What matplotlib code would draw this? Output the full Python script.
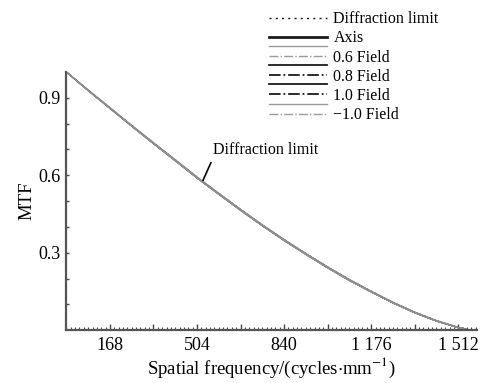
import numpy as np
import matplotlib.pyplot as plt
from matplotlib.lines import Line2D
from matplotlib.legend_handler import HandlerBase
from matplotlib.ticker import MultipleLocator

plt.rcParams['font.family'] = ['Liberation Serif', 'DejaVu Serif']
plt.rcParams['mathtext.fontset'] = 'stix'

# spatial frequency (cycles/mm) and MTF values
freq = [0, 84, 168, 252, 336, 420, 504, 588, 672, 756, 840, 924,
        1008, 1092, 1176, 1260, 1344, 1428, 1512, 1560]
diffraction = [1.0, 0.930, 0.862, 0.793, 0.726, 0.660, 0.593, 0.530, 0.468, 0.408,
               0.351, 0.297, 0.245, 0.196, 0.151, 0.108, 0.070, 0.037, 0.011, 0.0]
axis_mtf = [1.0, 0.929, 0.861, 0.792, 0.725, 0.659, 0.592, 0.529, 0.467, 0.407,
            0.350, 0.296, 0.244, 0.195, 0.150, 0.107, 0.069, 0.036, 0.010, 0.0]
f06_t = [1.0, 0.929, 0.860, 0.791, 0.724, 0.658, 0.591, 0.528, 0.466, 0.406,
         0.349, 0.295, 0.243, 0.194, 0.149, 0.106, 0.068, 0.036, 0.010, 0.0]
f06_s = [1.0, 0.929, 0.861, 0.792, 0.725, 0.659, 0.592, 0.529, 0.467, 0.407,
         0.350, 0.296, 0.244, 0.195, 0.150, 0.107, 0.069, 0.036, 0.010, 0.0]
f08_t = [1.0, 0.928, 0.860, 0.791, 0.723, 0.657, 0.590, 0.527, 0.465, 0.405,
         0.348, 0.294, 0.242, 0.193, 0.148, 0.106, 0.068, 0.035, 0.010, 0.0]
f08_s = [1.0, 0.929, 0.860, 0.791, 0.724, 0.658, 0.591, 0.528, 0.466, 0.406,
         0.349, 0.295, 0.243, 0.194, 0.149, 0.106, 0.068, 0.036, 0.010, 0.0]
f10_t = [1.0, 0.928, 0.859, 0.790, 0.722, 0.656, 0.589, 0.526, 0.464, 0.404,
         0.347, 0.293, 0.241, 0.192, 0.148, 0.105, 0.067, 0.035, 0.010, 0.0]
f10_s = [1.0, 0.929, 0.860, 0.791, 0.723, 0.657, 0.590, 0.527, 0.465, 0.405,
         0.348, 0.294, 0.242, 0.193, 0.148, 0.105, 0.068, 0.035, 0.010, 0.0]
fm10_t = [1.0, 0.928, 0.859, 0.790, 0.722, 0.656, 0.589, 0.526, 0.464, 0.404,
          0.347, 0.293, 0.241, 0.192, 0.148, 0.105, 0.067, 0.035, 0.010, 0.0]
fm10_s = [1.0, 0.929, 0.860, 0.791, 0.723, 0.657, 0.590, 0.527, 0.465, 0.405,
          0.348, 0.294, 0.242, 0.193, 0.148, 0.105, 0.068, 0.035, 0.010, 0.0]

xticks = [168, 336, 504, 672, 840, 1008, 1176, 1344, 1512]
xticklabels = ['168', '', '504', '', '840', '', '1 176', '', '1 512']
yticks = [0.1, 0.2, 0.3, 0.4, 0.5, 0.6, 0.7, 0.8, 0.9]
yticklabels = ['', '', '0.3', '', '', '0.6', '', '', '0.9']


class PairHandler(HandlerBase):
    # two lines per field: solid above, dash-dot on the label row
    def create_artists(self, legend, orig_handle, xdescent, ydescent,
                       width, height, fontsize, trans):
        arts = []
        ymid = height / 2 - ydescent
        for h, dy in zip(orig_handle, (0.62 * fontsize, 0.0)):
            ln = Line2D([-xdescent, -xdescent + width], [ymid + dy] * 2,
                        color=h.get_color(), linestyle=h.get_linestyle(),
                        linewidth=h.get_linewidth())
            ln.set_transform(trans)
            arts.append(ln)
        return arts


fig = plt.figure(figsize=(4.81, 3.83), dpi=100)
ax = fig.add_axes([0.138, 0.138, 0.854, 0.674])

black = '#1a1a1a'
gray = '#9a9a9a'
# curves (thin, they all sit on top of each other)
ax.plot(freq, diffraction, color=black, linestyle=(0, (1.5, 3)), lw=0.8)
ax.plot(freq, axis_mtf, color='#555555', lw=0.9)
ax.plot(freq, f06_t, color=gray, lw=0.8)
ax.plot(freq, f06_s, color=gray, lw=0.8, linestyle='-.')
ax.plot(freq, f08_t, color='#444444', lw=0.8)
ax.plot(freq, f08_s, color='#444444', lw=0.8, linestyle='-.')
ax.plot(freq, f10_t, color='#444444', lw=0.8)
ax.plot(freq, f10_s, color='#444444', lw=0.8, linestyle='-.')
ax.plot(freq, fm10_t, color=gray, lw=0.8)
ax.plot(freq, fm10_s, color=gray, lw=0.8, linestyle='-.')
ax.plot(freq, diffraction, color='#8c8c8c', lw=1.0)

ax.annotate('Diffraction limit', xy=(527, 0.58), xytext=(565, 0.665),
            fontsize=11.5, ha='left', va='bottom',
            arrowprops=dict(arrowstyle='-', color='black', lw=1.2,
                            relpos=(0.0, 0.0), shrinkA=1, shrinkB=0))

# legend proxies
L = lambda c, ls, lw: Line2D([], [], color=c, linestyle=ls, lw=lw)
handles = [L(black, (0, (1.5, 3)), 1.0),
           L(black, '-', 2.0),
           (L(gray, '-', 1.0), L(gray, '-.', 1.0)),
           (L(black, '-', 1.3), L(black, '-.', 1.3)),
           (L(black, '-', 1.3), L(black, '-.', 1.3)),
           (L(gray, '-', 1.0), L(gray, '-.', 1.0))]
labels = ['Diffraction limit', 'Axis', '0.6 Field', '0.8 Field', '1.0 Field', '\u22121.0 Field']
fig.legend(handles, labels, loc='upper left', bbox_to_anchor=(0.537, 1.0),
           frameon=False, fontsize=11.5, handlelength=3.6, handletextpad=0.4,
           labelspacing=0.2, borderaxespad=0.3,
           handler_map={tuple: PairHandler()})

ax.set_xlim(0, 1585)
ax.set_ylim(0, 1.0)
ax.set_xticks(xticks)
ax.set_xticklabels(xticklabels)
ax.xaxis.set_minor_locator(MultipleLocator(16.8))
ax.set_yticks(yticks)
ax.set_yticklabels(yticklabels)
ax.tick_params(axis='both', which='both', direction='in', colors='#444444', labelcolor='black',
               labelsize=13)
ax.tick_params(axis='x', which='major', length=4.5, width=1.0, pad=5)
ax.tick_params(axis='x', which='minor', length=2.2, width=0.8)
ax.tick_params(axis='y', which='major', length=2.5, width=1.0, pad=4)

for s in ['top', 'right']:
    ax.spines[s].set_visible(False)
for s in ['left', 'bottom']:
    ax.spines[s].set_color('#555555')
    ax.spines[s].set_linewidth(1.6)

ax.set_xlabel('Spatial frequency/(cycles$\\cdot$mm$^{-1}$)', fontsize=13.5, labelpad=1)
ax.set_ylabel('MTF', fontsize=13.5, labelpad=2)

fig.savefig('out.png', dpi=100)
